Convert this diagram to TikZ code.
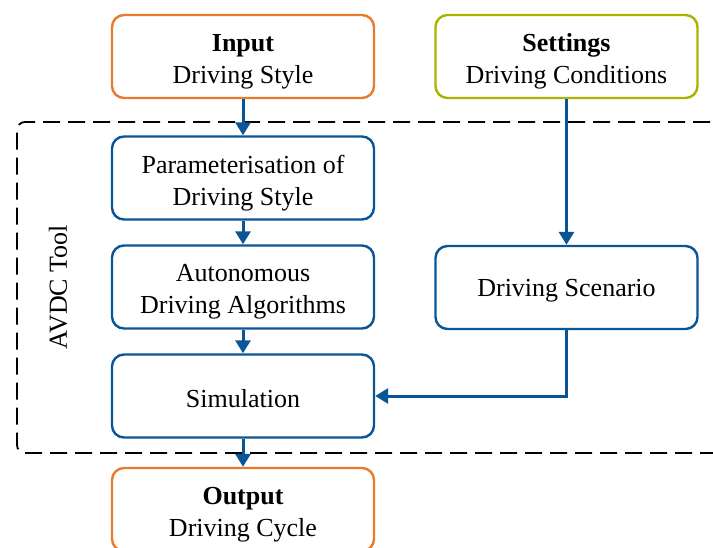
\documentclass[tikz,border=0pt]{standalone}
\usepackage{fontspec}
\setmainfont{Liberation Serif}
\usetikzlibrary{arrows.meta}
\definecolor{cOrange}{HTML}{E87B2E}
\definecolor{cOlive}{HTML}{A9B300}
\definecolor{cBlue}{HTML}{0A5596}
\tikzset{
  boxbase/.style={draw, rounded corners=6pt, line width=1.2pt, minimum width=131pt, minimum height=41.5pt, inner sep=0pt},
  txt/.style={align=center, font=\fontsize{13}{16}\selectfont, inner sep=0pt, yshift=-2.5pt},
  txtone/.style={txt, yshift=1pt},
  inbox/.style={boxbase, draw=cOrange},
  setbox/.style={boxbase, draw=cOlive},
  toolbox/.style={boxbase, draw=cBlue},
  flow/.style={draw=cBlue, line width=1.5pt, -{Triangle[width=7.5pt,length=6.5pt]}},
  tooldash/.style={draw=black, line width=0.9pt, dash pattern=on 8.5pt off 4pt, rounded corners=4pt}
}
\begin{document}
\begin{tikzpicture}[x=0.5pt,y=-0.5pt]
\useasboundingbox (0,0) rectangle (713,547);
\clip (0,0) rectangle (713,547);
\draw[tooldash] (760,122) -- (17,122) -- (17,453) -- (760,453);
\node[rotate=90, font=\fontsize{13}{16}\selectfont] (avdc) at (58,287) {AVDC Tool};
\node[inbox, label={[txt]center:{\textbf{Input}\\Driving Style}}] (input) at (243,56.5) {};
\node[setbox, label={[txt]center:{\textbf{Settings}\\Driving Conditions}}] (settings) at (566.5,56.5) {};
\node[toolbox, label={[txt]center:{Parameterisation of\\Driving Style}}] (param) at (243,178) {};
\node[toolbox, label={[txt]center:{Autonomous\\Driving Algorithms}}] (auto) at (243,287) {};
\node[toolbox, label={[txtone]center:{Simulation}}] (sim) at (243,396) {};
\node[toolbox, label={[txtone]center:{Driving Scenario}}] (scen) at (566.5,287.5) {};
\node[inbox, label={[txt]center:{\textbf{Output}\\Driving Cycle}}] (output) at (243,509.5) {};
\draw[flow] (input) -- (param);
\draw[flow] (param) -- (auto);
\draw[flow] (auto) -- (sim);
\draw[flow] (sim) -- (output);
\draw[flow] (settings) -- (scen);
\draw[flow] (scen.south) |- (sim.east);
\end{tikzpicture}
\end{document}
